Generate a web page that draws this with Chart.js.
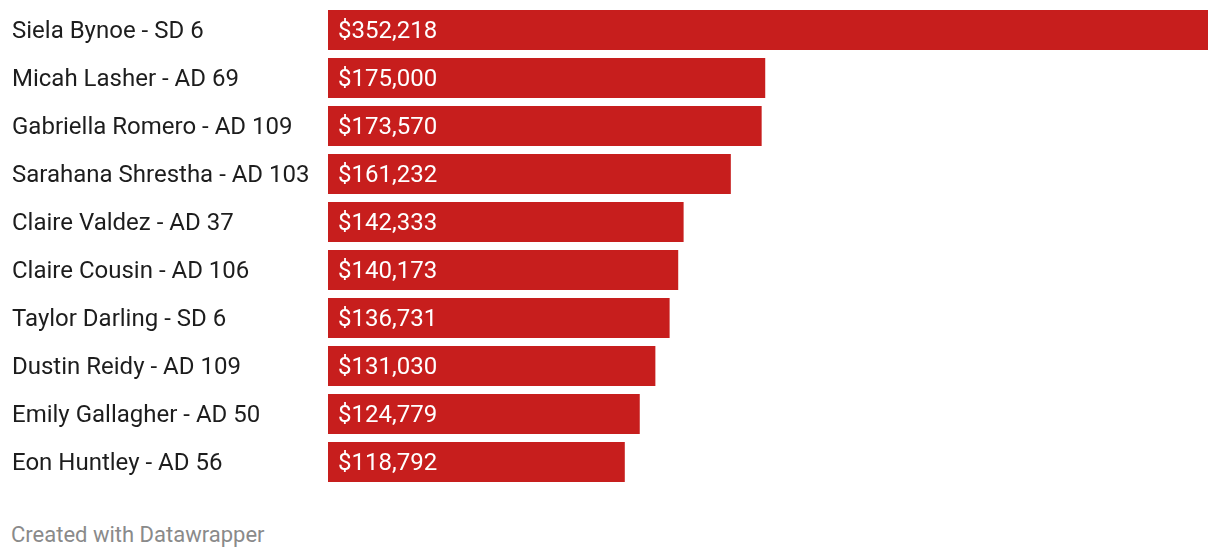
<!DOCTYPE html>
<html>
<head>
<meta charset="utf-8">
<script src="https://cdn.jsdelivr.net/npm/chart.js@4/dist/chart.umd.min.js"></script>
<style>
    body { margin: 0; background: #fff; font-family: Roboto, sans-serif; }
    #wrap { position: relative; width: 1220px; height: 558px; }
    #footer { position: absolute; left: 11px; top: 521px; font-size: 22px; line-height: 28px; color: #8a8a8a; }
</style>
</head>
<body>
<div id="wrap">
    <canvas id="chartDoacoes" width="1220" height="500"></canvas>
    <div id="footer">Created with Datawrapper</div>
</div>
<script>
// Dados do gráfico
const nomes = [
    'Siela Bynoe - SD 6',
    'Micah Lasher - AD 69',
    'Gabriella Romero - AD 109',
    'Sarahana Shrestha - AD 103',
    'Claire Valdez - AD 37',
    'Claire Cousin - AD 106',
    'Taylor Darling - SD 6',
    'Dustin Reidy - AD 109',
    'Emily Gallagher - AD 50',
    'Eon Huntley - AD 56'
];
const valores = [352218, 175000, 173570, 161232, 142333, 140173, 136731, 131030, 124779, 118792];

const corBarra = '#c71e1d';

function formatarDolar(v) {
    return '$' + v.toLocaleString('en-US');
}

// Plugin para escrever os valores dentro das barras
const rotulosValores = {
    id: 'rotulosValores',
    afterDatasetsDraw(chart) {
        const ctx = chart.ctx;
        const meta = chart.getDatasetMeta(0);
        ctx.save();
        ctx.font = '24px Roboto';
        ctx.fillStyle = '#ffffff';
        ctx.textAlign = 'left';
        ctx.textBaseline = 'middle';
        meta.data.forEach((bar, i) => {
            ctx.fillText(formatarDolar(valores[i]), bar.base + 10, bar.y + 2);
        });
        ctx.restore();
    }
};

new Chart(document.getElementById('chartDoacoes'), {
    type: 'bar',
    data: {
        labels: nomes,
        datasets: [{
            data: valores,
            backgroundColor: corBarra,
            borderWidth: 0,
            barPercentage: 1,
            categoryPercentage: 40 / 48
        }]
    },
    options: {
        indexAxis: 'y',
        responsive: false,
        animation: false,
        layout: { padding: { left: 12, right: 12, top: 6, bottom: 14 } },
        plugins: {
            legend: { display: false },
            tooltip: { enabled: false }
        },
        scales: {
            x: {
                display: false,
                min: 0,
                max: 352218
            },
            y: {
                grid: { display: false, drawTicks: false },
                border: { display: false },
                ticks: {
                    crossAlign: 'far',
                    color: '#1d1d1d',
                    font: { family: 'Roboto', size: 24 },
                    padding: 0,
                    labelOffset: 2
                },
                afterFit(scale) {
                    // largura fixa da coluna de nomes e sem folga extra em cima/embaixo
                    scale.width = 316;
                    scale.paddingTop = 0;
                    scale.paddingBottom = 0;
                }
            }
        }
    },
    plugins: [rotulosValores]
});
</script>
</body>
</html>
